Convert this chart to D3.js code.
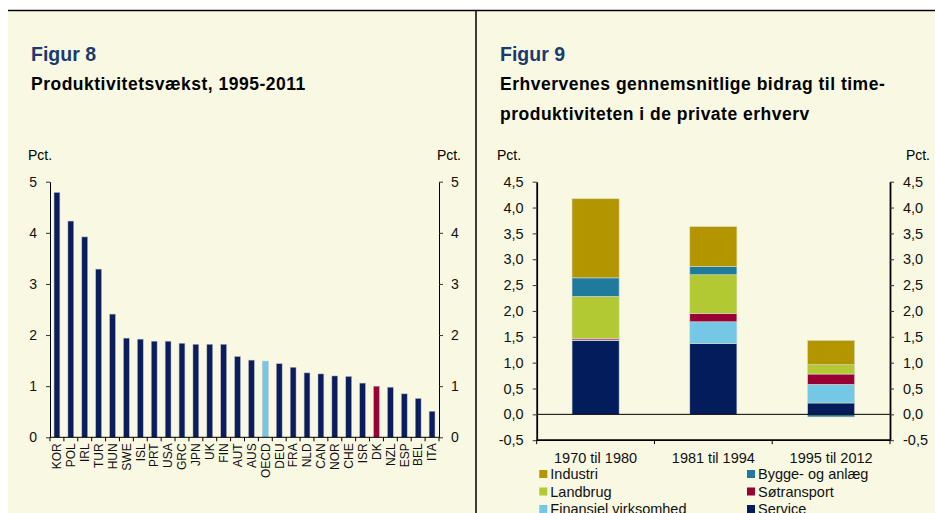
<!DOCTYPE html>
<html>
<head>
<meta charset="utf-8">
<script src="https://cdn.jsdelivr.net/npm/d3@7"></script>
<style>
body{margin:0;background:#fff;}
svg{display:block;font-family:"Liberation Sans",Arial,sans-serif;}
</style>
</head>
<body>
<div id="container"></div>
<script>
// Figur 8 data
var countries = ["KOR","POL","IRL","TUR","HUN","SWE","ISL","PRT","USA","GRC","JPN","UK","FIN","AUT","AUS","OECD","DEU","FRA","NLD","CAN","NOR","CHE","ISR","DK","NZL","ESP","BEL","ITA"]
var growth = [4.79,4.23,3.92,3.29,2.41,1.94,1.92,1.88,1.88,1.84,1.82,1.82,1.82,1.58,1.51,1.49,1.44,1.37,1.26,1.24,1.20,1.19,1.06,1.00,0.98,0.85,0.76,0.51]
var leftTicks = [0,1,2,3,4,5]

// Figur 9 data
var periods = ["1970 til 1980","1981 til 1994","1995 til 2012"]
var service = [1.43,1.37,0.22]
var finansiel = [0.01,0.42,0.36]
var soetransport = [0.03,0.16,0.20]
var landbrug = [0.81,0.75,0.18]
var bygge = [0.36,0.16,-0.05]
var industri = [1.53,0.77,0.47]
var rightTicks = [-0.5,0,0.5,1,1.5,2,2.5,3,3.5,4,4.5]

var seriesNames = ["Service","Finansiel virksomhed","Søtransport","Landbrug","Bygge- og anlæg","Industri"]
var seriesColors = {"Service":"#031c5c","Finansiel virksomhed":"#74c8e6","Søtransport":"#990033","Landbrug":"#b2c934","Bygge- og anlæg":"#1f7a9c","Industri":"#b39500"}
var legendOrder = ["Industri","Bygge- og anlæg","Landbrug","Søtransport","Finansiel virksomhed","Service"]

var w = 935, h = 513
var svg = d3.select("#container").append("svg").attr("width",w).attr("height",h)

svg.append("rect").attr("x",8).attr("y",10).attr("width",w-8).attr("height",h-10).attr("fill","#f8f8e3")
svg.append("line").attr("x1",8).attr("x2",w).attr("y1",10.5).attr("y2",10.5).attr("stroke","#000").attr("stroke-width",1.5)
svg.append("line").attr("x1",476).attr("x2",476).attr("y1",10).attr("y2",h).attr("stroke","#000").attr("stroke-width",1.5)

function title(x,lines,fig){
    svg.append("text").text(fig).attr("x",x).attr("y",61).attr("font-size","19.5px").attr("font-weight","bold").attr("fill","#1b3a6e")
    lines.forEach(function(t,i){
        svg.append("text").text(t).attr("x",x).attr("y",90+i*29.5).attr("font-size","17.5px").attr("font-weight","bold").attr("letter-spacing","0.5px").attr("fill","#000")
    })
}
title(31,["Produktivitetsvækst, 1995-2011"],"Figur 8")
title(500,["Erhvervenes gennemsnitlige bidrag til time-","produktiviteten i de private erhverv"],"Figur 9")

// ---------- Figur 8 ----------
var x8 = d3.scaleBand().domain(countries).range([50,439]).paddingInner(0.58).paddingOuter(0.29)
var y8 = d3.scaleLinear().domain([0,5]).range([437.3,181.7])

svg.append("text").text("Pct.").attr("x",28).attr("y",160).attr("font-size","14px")
svg.append("text").text("Pct.").attr("x",461).attr("y",160).attr("font-size","14px").attr("text-anchor","end")

var g8 = svg.append("g")
g8.selectAll(".bar8").data(countries).enter().append("rect")
    .attr("class","bar8")
    .attr("x",function(d){return x8(d)})
    .attr("width",x8.bandwidth())
    .attr("y",function(d,i){return y8(growth[i])})
    .attr("height",function(d,i){return y8(0)-y8(growth[i])})
    .attr("fill",function(d){return d=="OECD"?"#74c8e6":(d=="DK"?"#990033":"#0b1d5c")})
    .attr("stroke","#b9bcc6").attr("stroke-width",0.5)

var intFmt = d3.format("d")
var yAxisL = d3.axisLeft(y8).tickValues(leftTicks).tickFormat(intFmt).tickSize(4).tickPadding(9).tickSizeOuter(0)
var yAxisR = d3.axisRight(y8).tickValues(leftTicks).tickFormat(intFmt).tickSize(4).tickPadding(8).tickSizeOuter(0)
var a8L = g8.append("g").attr("transform","translate(50,0)").call(yAxisL)
var a8R = g8.append("g").attr("transform","translate(439,0)").call(yAxisR)
;[a8L,a8R].forEach(function(a){
    a.selectAll(".tick text").attr("font-size","14px").attr("font-family","Liberation Sans, Arial, sans-serif").attr("fill","#111")
    a.selectAll(".tick line").attr("stroke","#333")
})

// category axis with ticks between bands
var step8 = x8.step()
var bounds8 = d3.range(countries.length+1).map(function(i){return x8.range()[0]+i*step8})
g8.append("line").attr("x1",50).attr("x2",439).attr("y1",y8(0)).attr("y2",y8(0)).attr("stroke","#000")
g8.selectAll(".tk8").data(bounds8).enter().append("line")
    .attr("x1",function(d){return d}).attr("x2",function(d){return d})
    .attr("y1",y8(0)).attr("y2",y8(0)+4).attr("stroke","#000")
g8.selectAll(".lab8").data(countries).enter().append("text")
    .text(function(d){return d})
    .attr("transform",function(d){return "translate("+(x8(d)+x8.bandwidth()/2+4.3)+","+(y8(0)+6)+") rotate(-90)"})
    .attr("text-anchor","end").attr("font-size","12px").attr("fill","#111")

// ---------- Figur 9 ----------
var x9 = d3.scaleBand().domain(periods).range([536.7,890]).paddingInner(0.6).paddingOuter(0.3)
var y9 = d3.scaleLinear().domain([-0.5,4.5]).range([440.2,181.7])

svg.append("text").text("Pct.").attr("x",497).attr("y",160).attr("font-size","14px")
svg.append("text").text("Pct.").attr("x",930).attr("y",160).attr("font-size","14px").attr("text-anchor","end")

var table = periods.map(function(p,i){
    return {period:p,"Service":service[i],"Finansiel virksomhed":finansiel[i],"Søtransport":soetransport[i],"Landbrug":landbrug[i],"Bygge- og anlæg":bygge[i],"Industri":industri[i]}
})
var stacked = d3.stack().keys(seriesNames).offset(d3.stackOffsetDiverging)(table)

var g9 = svg.append("g")
stacked.forEach(function(s){
    g9.selectAll(".seg"+s.index).data(s).enter().append("rect")
        .attr("x",function(d){return x9(d.data.period)})
        .attr("width",x9.bandwidth())
        .attr("y",function(d){return y9(d[1])})
        .attr("height",function(d){return Math.max(0,y9(d[0])-y9(d[1]))})
        .attr("fill",seriesColors[s.key])
        .attr("stroke","#d6dbcc").attr("stroke-width",0.6)
})

var fmt = function(d){return d.toFixed(1).replace(".",",")}
var yAxis9L = d3.axisLeft(y9).tickValues(rightTicks).tickFormat(fmt).tickSize(4).tickPadding(9).tickSizeOuter(0)
var yAxis9R = d3.axisRight(y9).tickValues(rightTicks).tickFormat(fmt).tickSize(4).tickPadding(9).tickSizeOuter(0)
var aL = g9.append("g").attr("transform","translate(536.7,0)").call(yAxis9L)
var aR = g9.append("g").attr("transform","translate(890,0)").call(yAxis9R)
;[aL,aR].forEach(function(a){
    a.select(".domain").attr("stroke-width",1.8)
    a.selectAll(".tick text").attr("font-size","14.5px").attr("font-family","Liberation Sans, Arial, sans-serif").attr("fill","#111")
    a.selectAll(".tick line").attr("stroke","#333")
})

g9.append("line").attr("x1",536.7).attr("x2",890).attr("y1",y9(0)).attr("y2",y9(0)).attr("stroke","#000")
g9.append("line").attr("x1",536.7).attr("x2",890).attr("y1",y9(-0.5)).attr("y2",y9(-0.5)).attr("stroke","#000").attr("stroke-width",1.8)
var bounds9 = d3.range(periods.length+1).map(function(i){return 536.7+i*x9.step()})
g9.selectAll(".tk9").data(bounds9).enter().append("line")
    .attr("x1",function(d){return d}).attr("x2",function(d){return d})
    .attr("y1",y9(-0.5)).attr("y2",y9(-0.5)+4).attr("stroke","#000")
g9.selectAll(".lab9").data(periods).enter().append("text")
    .text(function(d){return d})
    .attr("x",function(d){return x9(d)+x9.bandwidth()/2})
    .attr("y",463).attr("text-anchor","middle").attr("font-size","14.5px").attr("fill","#111")

// legend (last row is cut by the frame edge, as in the original)
var leg = g9.selectAll(".leg").data(legendOrder).enter().append("g")
    .attr("transform",function(d,i){return "translate("+(i%2==0?539.3:747)+","+(479+Math.floor(i/2)*17.5)+")"})
leg.append("rect").attr("x",0).attr("y",-9).attr("width",8).attr("height",8).attr("fill",function(d){return seriesColors[d]})
leg.append("text").text(function(d){return d}).attr("x",11).attr("y",0).attr("font-size","14.5px").attr("fill","#111")
</script>
</body>
</html>
